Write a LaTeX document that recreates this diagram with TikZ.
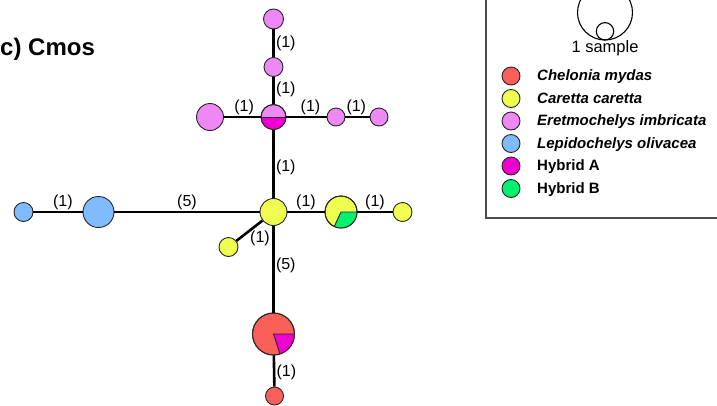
\documentclass[tikz,border=0pt]{standalone}
\usepackage{fontspec}
\setmainfont{Liberation Sans}
\definecolor{cred}{RGB}{250,95,90}
\definecolor{cyellow}{RGB}{238,255,80}
\definecolor{cpink}{RGB}{238,136,244}
\definecolor{cblue}{RGB}{128,187,255}
\definecolor{cmag}{RGB}{240,0,208}
\definecolor{cgreen}{RGB}{0,240,112}
\begin{document}
\begin{tikzpicture}[x=1pt,y=1pt,
  hap/.style={circle,draw=black!85,line width=0.9pt,inner sep=0pt,minimum size=#1},
  edge/.style={line width=2.6pt,draw=black},
  lab/.style={font=\fontsize{16}{19}\selectfont,inner sep=1.2pt},
  legtxt/.style={anchor=base west,inner sep=0pt,font=\fontsize{15}{18}\selectfont\bfseries},
  outline/.style={line width=0.9pt,draw=black!85}
]
\clip (0,0) rectangle (717,-405);

% title
\node[anchor=base west,inner sep=0pt,font=\fontsize{24}{28}\selectfont\bfseries] (title) at (0,-55) {c)\ Cmos};

% haplotypes
\node[hap=20,fill=cpink] (p1) at (273.5,-19) {};
\node[hap=19,fill=cpink] (p2) at (273.5,-67) {};
\node[hap=25,fill=cpink] (ph) at (273.5,-117) {};
\node[hap=27,fill=cpink] (pl) at (210,-117) {};
\node[hap=18,fill=cpink] (pr1) at (336,-117) {};
\node[hap=18,fill=cpink] (pr2) at (379,-117) {};
\node[hap=27,fill=cyellow] (y) at (273.5,-212) {};
\node[hap=19,fill=cyellow] (y2) at (228.5,-247) {};
\node[hap=32,fill=cyellow] (yg) at (341,-212) {};
\node[hap=19,fill=cyellow] (y3) at (402.5,-212) {};
\node[hap=31,fill=cblue] (b1) at (98.5,-212) {};
\node[hap=19,fill=cblue] (b2) at (23.5,-212) {};
\node[hap=42,fill=cred] (r) at (273.5,-334) {};
\node[hap=18,fill=cred] (r2) at (274.5,-396) {};

% pie sectors
\fill[cmag] (ph.center) -- ++(180:12.5) arc[start angle=180,end angle=360,radius=12.5] -- cycle;
\draw[outline] ([xshift=-12.5pt]ph.center) -- ([xshift=12.5pt]ph.center);
\draw[outline] (ph.center) circle[radius=12.5];

\fill[cgreen] (yg.center) -- ++(0:16) arc[start angle=0,end angle=-115,radius=16] -- cycle;
\draw[outline] ([xshift=16pt]yg.center) -- (yg.center) -- ++(-115:16);
\draw[outline] (yg.center) circle[radius=16];

\fill[cmag] (r.center) -- ++(0:21) arc[start angle=0,end angle=-72,radius=21] -- cycle;
\draw[outline] ([xshift=21pt]r.center) -- (r.center) -- ++(-72:21);
\draw[outline] (r.center) circle[radius=21];

% connectors
\draw[edge] (p1) -- node[lab,right,pos=0.5]{(1)} (p2);
\draw[edge] (p2) -- node[lab,right,pos=0.45]{(1)} (ph);
\draw[edge] (pl) -- node[lab,above,pos=0.55]{(1)} (ph);
\draw[edge] (ph) -- node[lab,above,pos=0.6]{(1)} (pr1);
\draw[edge] (pr1) -- node[lab,above,pos=0.45]{(1)} (pr2);
\draw[edge] (ph) -- node[lab,right,pos=0.55]{(1)} (y);
\draw[edge] (b2) -- node[lab,above,pos=0.6]{(1)} (b1);
\draw[edge] (b1) -- node[lab,above,pos=0.5]{(5)} (y);
\draw[edge] (y) -- node[lab,above,pos=0.5]{(1)} (yg);
\draw[edge] (yg) -- node[lab,above,pos=0.5]{(1)} (y3);
\draw[edge] (y) -- node[lab,anchor=north west,pos=0.45,xshift=-3pt,yshift=1pt]{(1)} (y2);
\draw[edge] (y) -- node[lab,right,pos=0.45]{(5)} (r);
\draw[edge] (r) -- node[lab,right,pos=0.55]{(1)} (r2);

% legend
\draw[line width=1.4pt,draw=black!70] (486,5) rectangle (730,-218);
\draw[line width=1.1pt] (605,-12.5) circle[radius=27.5];
\draw[line width=1.1pt] (605,-31.3) circle[radius=8.7];
\node[anchor=base,inner sep=0pt,font=\fontsize{16.5}{19}\selectfont] (samp) at (605,-52) {1 sample};

\node[hap=18,fill=cred] (l1) at (511,-76) {};
\node[hap=18,fill=cyellow] (l2) at (511,-98.5) {};
\node[hap=18,fill=cpink] (l3) at (511,-121) {};
\node[hap=18,fill=cblue] (l4) at (511,-143.5) {};
\node[hap=18,fill=cmag] (l5) at (511,-166) {};
\node[hap=18,fill=cgreen] (l6) at (511,-188.5) {};
\node[legtxt] (t1) at (537,-80.5) {\itshape Chelonia mydas};
\node[legtxt] (t2) at (537,-103) {\itshape Caretta caretta};
\node[legtxt] (t3) at (537,-125.5) {\itshape Eretmochelys imbricata};
\node[legtxt] (t4) at (537,-148) {\itshape Lepidochelys olivacea};
\node[legtxt] (t5) at (537,-170.5) {Hybrid A};
\node[legtxt] (t6) at (537,-193) {Hybrid B};
\end{tikzpicture}
\end{document}
